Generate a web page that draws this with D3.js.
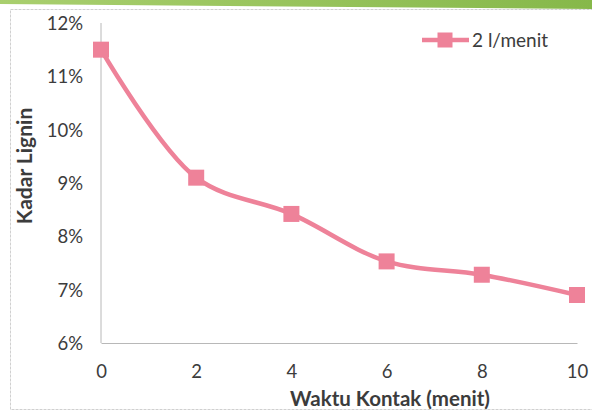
<!DOCTYPE html>
<html>
<head>
<meta charset="utf-8">
<script src="https://cdn.jsdelivr.net/npm/d3@7"></script>
<style>
  html, body { margin: 0; padding: 0; background: #fff; }
  svg { display: block; }
</style>
</head>
<body>
<div id="chart"></div>
<script>
// Lignin content vs. contact time, 2 l/menit flow
const contactTime = [0, 2, 4, 6, 8, 10];
const ligninPct = [11.5, 9.1, 8.42, 7.53, 7.28, 6.9];
const seriesName = "2 l/menit";
const xTicks = [0, 2, 4, 6, 8, 10];
const yTicks = [6, 7, 8, 9, 10, 11, 12];

const W = 592, H = 414;
const margin = { left: 101, right: 15, top: 23, bottom: 71 };
const pink = "#ee8299";
const textCol = "#3c3c3c";
const font = "Lato, 'Open Sans', sans-serif";

const svg = d3.select("#chart").append("svg")
  .attr("width", W).attr("height", H);

// green strip along the top edge
const grad = svg.append("defs").append("linearGradient")
  .attr("id", "topband").attr("x1", "0").attr("x2", "1");
grad.append("stop").attr("offset", "0").attr("stop-color", "#a9cf6e");
grad.append("stop").attr("offset", "1").attr("stop-color", "#86b84a");
svg.append("path")
  .attr("d", `M0,0 H${W} V9 L0,4 Z`)
  .attr("fill", "url(#topband)");

// chart frame
svg.append("rect")
  .attr("x", 10.5).attr("y", 9.5)
  .attr("width", W - 10).attr("height", H - 14)
  .attr("fill", "none").attr("stroke", "#d0d0d0").attr("stroke-width", 1)
  .attr("stroke-dasharray", "3,1");

const x = d3.scaleLinear().domain([0, 10]).range([margin.left, W - margin.right]);
const y = d3.scaleLinear().domain([6, 12]).range([H - margin.bottom, margin.top]);

// axes
const xAxis = svg.append("g")
  .attr("transform", `translate(0,${y(6)})`)
  .call(d3.axisBottom(x).tickValues(xTicks).tickSize(0).tickPadding(22).tickFormat(d3.format("d")));
const yAxis = svg.append("g")
  .attr("transform", `translate(${x(0)},0)`)
  .call(d3.axisLeft(y).tickValues(yTicks).tickSize(0).tickPadding(18).tickFormat(d => d + "%"));

[xAxis, yAxis].forEach(g => {
  g.select(".domain").attr("stroke", "#b8b8b8").attr("stroke-width", 1);
  g.selectAll("text")
    .attr("font-family", font).attr("font-size", 18.5).attr("fill", textCol);
});
yAxis.selectAll("text").attr("dy", "0.35em");
yAxis.select(".domain").attr("d", `M0,${y(12)}V${y(6)}`);

// axis titles
svg.append("text")
  .attr("x", 390).attr("y", 406)
  .attr("text-anchor", "middle")
  .attr("font-family", font).attr("font-size", 20.5).attr("font-weight", "bold")
  .attr("fill", textCol)
  .text("Waktu Kontak (menit)");
svg.append("text")
  .attr("transform", `translate(32,166) rotate(-90)`)
  .attr("text-anchor", "middle")
  .attr("font-family", font).attr("font-size", 21).attr("font-weight", "bold")
  .attr("fill", textCol)
  .text("Kadar Lignin");

// smoothed series line
const data = contactTime.map((t, i) => ({ t, v: ligninPct[i] }));
const line = d3.line()
  .x(d => x(d.t)).y(d => y(d.v))
  .curve(d3.curveCatmullRom.alpha(0.5));
svg.append("path")
  .datum(data)
  .attr("d", line)
  .attr("fill", "none").attr("stroke", pink)
  .attr("stroke-width", 4.5).attr("stroke-linejoin", "round");

// square markers
const ms = 16;
svg.append("g").selectAll("rect")
  .data(data).join("rect")
  .attr("x", d => x(d.t) - ms / 2).attr("y", d => y(d.v) - ms / 2)
  .attr("width", ms).attr("height", ms)
  .attr("fill", pink);

// legend
const lg = svg.append("g").attr("transform", "translate(422,40)");
lg.append("line").attr("x1", 0).attr("x2", 47).attr("y1", 0).attr("y2", 0)
  .attr("stroke", pink).attr("stroke-width", 4.5);
lg.append("rect").attr("x", 23 - 15 / 2).attr("y", -15 / 2)
  .attr("width", 15).attr("height", 15).attr("fill", pink);
lg.append("text").attr("x", 50).attr("y", 0).attr("dy", "0.35em")
  .attr("font-family", font).attr("font-size", 19).attr("fill", textCol)
  .text(seriesName);
</script>
</body>
</html>
